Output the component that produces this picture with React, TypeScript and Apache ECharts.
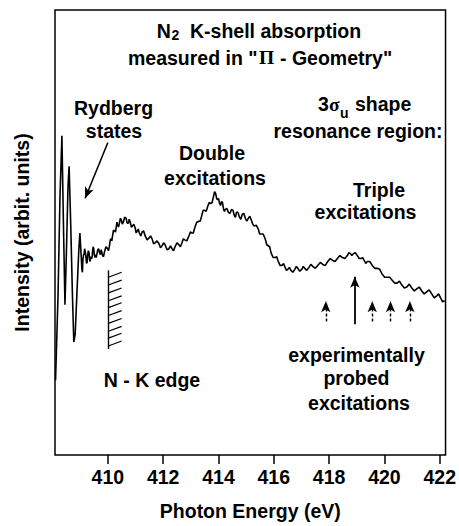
import React, { useEffect, useRef } from "react";
import * as echarts from "echarts";

// Photon energy (eV) and intensity (arbitrary units)
const energy = [
  408.11, 408.2, 408.27, 408.34, 408.39, 408.45, 408.5, 408.56, 408.6, 408.66,
  408.72, 408.77, 408.82, 408.88, 408.95, 408.99,
  409.04, 409.06, 409.08, 409.10, 409.13, 409.145, 409.16, 409.195, 409.23, 409.25,
  409.27, 409.295, 409.32, 409.34, 409.36, 409.385, 409.41, 409.43, 409.45, 409.47,
  409.49, 409.515, 409.54, 409.56, 409.58, 409.605, 409.63, 409.665, 409.70, 409.73,
  409.76, 409.785, 409.81, 409.845, 409.88, 409.935, 409.99, 410.025, 410.06, 410.09,
  410.12, 410.145, 410.17, 410.205, 410.24, 410.275, 410.31, 410.33, 410.35, 410.385,
  410.42, 410.455, 410.49, 410.525, 410.56, 410.61, 410.66, 410.70, 410.74, 410.775,
  410.81, 410.85, 410.89, 410.94, 410.99, 411.025, 411.06, 411.10, 411.14, 411.19,
  411.24, 411.295, 411.35, 411.42, 411.49, 411.545, 411.60, 411.655, 411.71, 411.78,
  411.85, 411.905, 411.96, 412.015, 412.07, 412.14, 412.21, 412.265, 412.32, 412.375,
  412.43, 412.50, 412.57, 412.625, 412.68, 412.73, 412.78, 412.855, 412.93, 412.985,
  413.04, 413.09, 413.14, 413.215, 413.29, 413.34, 413.39, 413.445, 413.50, 413.555,
  413.61, 413.665, 413.72, 413.77, 413.82, 413.86, 413.90, 413.935, 413.97, 414.005,
  414.04, 414.075, 414.11, 414.145, 414.18, 414.215, 414.25, 414.305, 414.36, 414.415,
  414.47, 414.525, 414.58, 414.615, 414.65, 414.705, 414.76, 414.81, 414.86, 414.915,
  414.97, 415.025, 415.08, 415.135, 415.19, 415.24, 415.29, 415.365, 415.44, 415.49,
  415.54, 415.615, 415.69, 415.745, 415.80, 415.85, 415.90, 415.975, 416.05, 416.10,
  416.15, 416.225, 416.30, 416.355, 416.41, 416.46, 416.51, 416.565, 416.62, 416.69,
  416.76, 416.815, 416.87, 416.94, 417.01, 417.065, 417.12, 417.195, 417.27, 417.34,
  417.41, 417.50, 417.59, 417.68, 417.77, 417.86, 417.95, 418.04, 418.13, 418.215,
  418.30, 418.39, 418.48, 418.57, 418.66, 418.715, 418.77, 418.825, 418.88, 418.95,
  419.02, 419.09, 419.16, 419.215, 419.27, 419.325, 419.38, 419.47, 419.56, 419.65,
  419.74, 419.83, 419.92, 420.01, 420.10, 420.19, 420.28, 420.37, 420.46, 420.545,
  420.63, 420.72, 420.81, 420.90, 420.99, 421.08, 421.17, 421.26, 421.35, 421.44,
  421.53, 421.62, 421.71, 421.80, 421.89, 421.96, 422.03, 422.105, 422.18,
];
const intensity = [
  76, 163, 263, 325, 243, 153, 203, 273, 294, 233,
  163, 115, 123, 163, 208, 226,
  201, 190, 186, 199, 205, 204, 210, 205, 195, 196,
  203, 208, 206, 199, 197, 202, 200, 201, 208, 212,
  210, 203, 201, 204, 201, 201, 208, 210, 206, 204,
  209, 209, 203, 202, 207, 212, 210, 208, 213, 219,
  220, 218, 223, 229, 228, 227, 233, 237, 235, 232,
  236, 241, 239, 235, 237, 242, 241, 236, 236, 240,
  237, 232, 233, 235, 231, 226, 228, 230, 226, 223,
  227, 228, 223, 219, 221, 223, 220, 215, 216, 218,
  215, 211, 213, 216, 214, 209, 210, 213, 210, 208,
  212, 216, 214, 212, 216, 220, 219, 218, 223, 227,
  226, 226, 231, 237, 238, 238, 243, 249, 249, 248,
  253, 257, 256, 257, 263, 268, 266, 261, 260, 261,
  256, 254, 258, 257, 251, 248, 250, 251, 247, 246,
  250, 249, 243, 242, 247, 247, 242, 240, 245, 246,
  241, 238, 241, 243, 239, 235, 233, 234, 230, 225,
  225, 225, 220, 214, 213, 212, 206, 201, 201, 202,
  198, 193, 193, 195, 191, 188, 189, 191, 188, 186,
  189, 192, 190, 187, 189, 192, 190, 188, 191, 194,
  192, 190, 193, 196, 194, 193, 197, 200, 198, 197,
  200, 203, 201, 200, 203, 206, 205, 203, 205, 206,
  203, 200, 200, 201, 198, 195, 197, 197, 193, 190,
  190, 189, 184, 181, 181, 181, 178, 175, 175, 177,
  173, 170, 171, 174, 170, 167, 169, 171, 167, 164,
  166, 168, 164, 160, 162, 164, 160, 156, 157,
];

const xTicks = [410, 412, 414, 416, 418, 420, 422];

// Experimentally probed excitation energies (eV): dashed = weak, solid = main
const probedDashed = [417.88, 419.56, 420.22, 420.92];
const probedSolid = [418.93];

// N-K edge position (eV) and its hatch levels
const edgeEnergy = 410.02;
const hatchLevels = [181, 173, 165, 157, 150, 142, 134, 126, 119, 111];

const SANS = "'Liberation Sans', Arial, Helvetica, sans-serif";
const SERIF = "'Liberation Serif', 'Times New Roman', serif";
const MAIN = `bold 19.5px ${SANS}`;
const SUB = `bold 14px ${SANS}`;
const GREEK = `bold 19.5px ${SERIF}`;

function txt(text: string, x: number, y: number, font = MAIN, align = "center") {
  return {
    type: "text",
    x,
    y,
    silent: true,
    style: {
      text,
      font,
      fill: "#000",
      textAlign: align,
      textVerticalAlign: "middle",
    },
  };
}

export default function App() {
  const ref = useRef<HTMLDivElement>(null);

  useEffect(() => {
    if (!ref.current) return;
    document.documentElement.style.overflow = "hidden";
    const chart = echarts.init(ref.current, null, { renderer: "svg" });

    const n = Math.min(energy.length, intensity.length);
    const data = energy.slice(0, n).map((e, i) => [e, intensity[i]]);

    const arrowLines: any[] = [];
    probedDashed.forEach((e) => {
      arrowLines.push([
        { coord: [e, 136], symbol: "none", lineStyle: { type: [3, 2], width: 1.4 } },
        { coord: [e, 156.5], symbol: "arrow", symbolSize: [7, 11] },
      ]);
    });
    probedSolid.forEach((e) => {
      arrowLines.push([
        { coord: [e, 133], symbol: "none", lineStyle: { type: "solid", width: 1.8 } },
        { coord: [e, 181.5], symbol: "arrow", symbolSize: [7, 11] },
      ]);
    });
    // Rydberg states pointer
    arrowLines.push([
      { coord: [410.0, 318], symbol: "none", lineStyle: { type: "solid", width: 1.5 } },
      { coord: [409.18, 261.4], symbol: "arrow", symbolSize: [7, 11] },
    ]);
    // N-K edge with hatching
    arrowLines.push([
      { coord: [edgeEnergy, 188], symbol: "none", lineStyle: { type: "solid", width: 1.4 } },
      { coord: [edgeEnergy, 108], symbol: "none" },
    ]);
    hatchLevels.forEach((v) => {
      arrowLines.push([
        { coord: [edgeEnergy, v], symbol: "none", lineStyle: { type: "solid", width: 1.2 } },
        { coord: [edgeEnergy + 0.48, v + 5], symbol: "none" },
      ]);
    });

    chart.setOption({
      animation: false,
      grid: {
        left: 55,
        right: 10,
        top: 10,
        bottom: 63,
        show: true,
        borderColor: "#000",
        borderWidth: 1.5,
        backgroundColor: "transparent",
      },
      xAxis: {
        type: "value",
        min: 408.09,
        max: 422.21,
        name: "Photon Energy (eV)",
        nameLocation: "middle",
        nameGap: 46,
        nameTextStyle: { fontFamily: SANS, fontWeight: "bold", fontSize: 19.5, color: "#000" },
        axisLine: { show: false },
        axisTick: {
          show: true,
          inside: false,
          length: 9,
          customValues: xTicks,
          lineStyle: { color: "#000", width: 1.5 },
        },
        axisLabel: {
          show: true,
          customValues: xTicks,
          margin: 12,
          fontFamily: SANS,
          fontWeight: "bold",
          fontSize: 19.5,
          color: "#000",
        },
        splitLine: { show: false },
      },
      yAxis: {
        type: "value",
        min: 0,
        max: 453,
        name: "Intensity (arbit. units)",
        nameLocation: "middle",
        nameGap: 23,
        nameTextStyle: { fontFamily: SANS, fontWeight: "bold", fontSize: 19.5, color: "#000" },
        axisLine: { show: false },
        axisTick: { show: false },
        axisLabel: { show: false },
        splitLine: { show: false },
      },
      series: [
        {
          type: "line",
          data,
          symbol: "none",
          lineStyle: { color: "#000", width: 1.6 },
          silent: true,
          markLine: {
            silent: true,
            animation: false,
            symbol: ["none", "none"],
            label: { show: false },
            emphasis: { disabled: true },
            lineStyle: { color: "#000", width: 1.5, type: "solid" },
            itemStyle: { color: "#000" },
            data: arrowLines,
          },
        },
      ],
      graphic: [
        txt("N", 156.7, 30.5, MAIN, "left"),
        txt("2", 171.5, 35, SUB, "left"),
        txt("K-shell absorption", 190, 30.5, MAIN, "left"),
        txt('measured in "', 128, 57.5, MAIN, "left"),
        txt("\u03A0", 259, 57.5, GREEK, "left"),
        txt('- Geometry"', 280, 57.5, MAIN, "left"),
        txt("Rydberg", 113.5, 108.3),
        txt("states", 114, 131.3),
        txt("Double", 212, 153.3),
        txt("excitations", 215, 178),
        txt("3", 318, 104, MAIN, "left"),
        txt("\u03C3", 329, 104, GREEK, "left"),
        txt("u", 340, 113, SUB, "left"),
        txt("shape", 355, 104, MAIN, "left"),
        txt("resonance region:", 358, 131),
        txt("Triple", 379, 190),
        txt("excitations", 365.5, 212),
        txt("N - K edge", 152, 380),
        txt("experimentally", 356.5, 355),
        txt("probed", 356.5, 378),
        txt("excitations", 359, 403),
      ],
    });

    return () => chart.dispose();
  }, []);

  return (
    <div
      ref={ref}
      style={{ position: "absolute", left: 0, top: 0, width: 459, height: 526 }}
    />
  );
}
